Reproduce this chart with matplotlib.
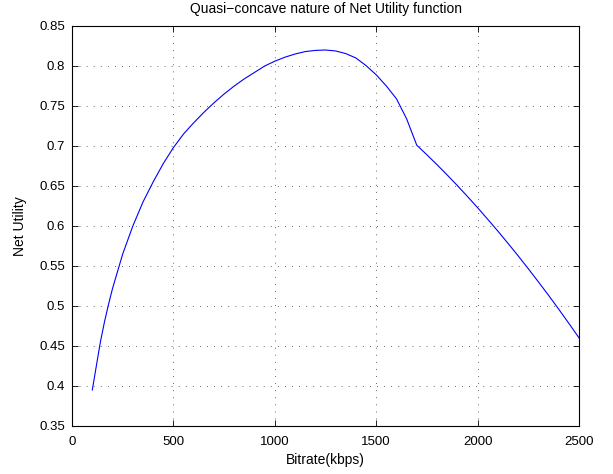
import numpy as np
import matplotlib.pyplot as plt

plt.rcParams['font.family'] = ['Liberation Sans', 'DejaVu Sans']

# values
bitrate = [100, 120, 140, 160, 180, 200, 250, 300, 350, 400, 450, 500,
           550, 600, 650, 700, 750, 800, 850, 900, 950, 1000, 1050, 1100,
           1150, 1200, 1250, 1300, 1350, 1400, 1450, 1500, 1550, 1600, 1650, 1700,
           1750, 1800, 1850, 1900, 1950, 2000, 2050, 2100, 2150, 2200, 2250,
           2300, 2350, 2400, 2450, 2500]
net_utility = [0.395, 0.425, 0.455, 0.480, 0.502, 0.522, 0.565, 0.600, 0.630, 0.655, 0.678, 0.698,
               0.715, 0.729, 0.742, 0.754, 0.765, 0.775, 0.784, 0.792, 0.800, 0.806, 0.811, 0.815,
               0.818, 0.8195, 0.820, 0.8188, 0.8155, 0.810, 0.8005, 0.789, 0.775, 0.759, 0.734, 0.701,
               0.689, 0.6766, 0.6638, 0.6506, 0.6369, 0.6229, 0.6084, 0.5936, 0.5783, 0.5627, 0.5466,
               0.5301, 0.5133, 0.4960, 0.4783, 0.4602]

xticks = [0, 500, 1000, 1500, 2000, 2500]
yticks = [0.35, 0.4, 0.45, 0.5, 0.55, 0.6, 0.65, 0.7, 0.75, 0.8, 0.85]
yticklabels = ['0.35', '0.4', '0.45', '0.5', '0.55', '0.6', '0.65', '0.7', '0.75', '0.8', '0.85']

fig = plt.figure(figsize=(6.13, 4.74), dpi=100)
ax = fig.add_axes([72 / 613, 48 / 474, 507 / 613, 400 / 474])

ax.plot(bitrate, net_utility, color=(0, 0, 1), linewidth=0.8)

ax.set_xlim(0, 2500)
ax.set_ylim(0.35, 0.85)
ax.set_xticks(xticks)
ax.set_xticklabels([str(t) for t in xticks])
ax.set_yticks(yticks)
ax.set_yticklabels(yticklabels)
ax.tick_params(axis='both', direction='in', top=True, right=True, length=4, width=0.6,
               labelsize=9.5, colors='black')
ax.tick_params(axis='x', pad=7)
ax.tick_params(axis='y', pad=5)
for s in ax.spines.values():
    s.set_linewidth(0.8)
ax.grid(True, linestyle=(0, (1, 7.5)), color='black', linewidth=0.6, alpha=0.8)

ax.set_title('Quasi\u2212concave nature of Net Utility function', fontsize=10, pad=9)
ax.set_xlabel('Bitrate(kbps)', fontsize=10, labelpad=4)
ax.set_ylabel('Net Utility', fontsize=10, labelpad=9)

fig.savefig('out.png', dpi=100)
